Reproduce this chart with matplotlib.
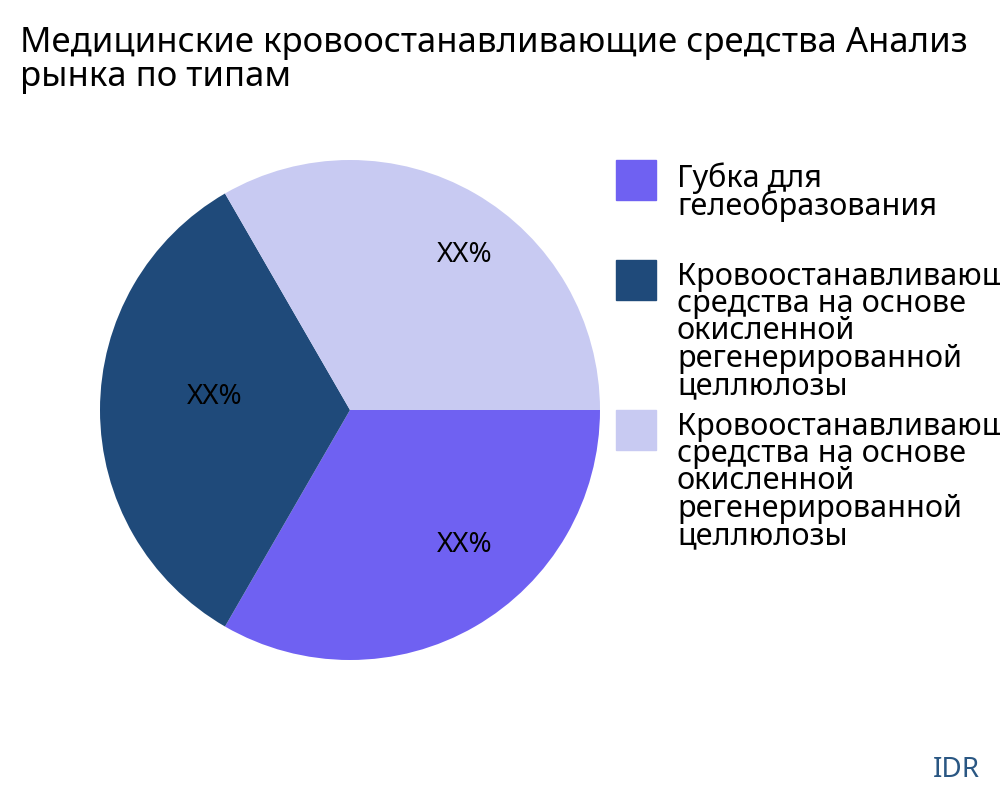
import matplotlib.pyplot as plt
import matplotlib.patches as mpatches

plt.rcParams['font.family'] = ['Noto Sans', 'DejaVu Sans']

title = "Медицинские кровоостанавливающие средства Анализ\nрынка по типам"
labels = ["Губка для\nгелеобразования",
          "Кровоостанавливающие\nсредства на основе\nокисленной\nрегенерированной\nцеллюлозы",
          "Кровоостанавливающие\nсредства на основе\nокисленной\nрегенерированной\nцеллюлозы"]
values = [1, 1, 1]
colors = ["#6F61F2", "#1F4A7A", "#C8CAF2"]

fig = plt.figure(figsize=(10, 8), dpi=100)
ax = fig.add_axes([0.1, 0.175, 0.5, 0.625])
wedges, _, pcts = ax.pie(values, colors=colors, startangle=0, counterclock=False,
                         autopct=lambda p: "XX%", pctdistance=0.7,
                         textprops={'fontsize': 20, 'color': 'black'})
# inside labels sit a bit off the wedge bisector, like the original
for t, pos in zip(pcts, [(0.46, -0.54), (-0.54, 0.05), (0.46, 0.62)]):
    t.set_position(pos)
ax.set_xlim(-1, 1)
ax.set_ylim(-1, 1)
ax.set_aspect('equal')

fig.text(0.02, 0.968, title, fontsize=25, va='top', ha='left', linespacing=1.02)

# hand-made legend, text runs off the right edge like the original
tops = [160, 260, 410]
for top, lab, col in zip(tops, labels, colors):
    fig.patches.append(mpatches.Rectangle((0.616, 1 - (top + 40) / 800), 0.04, 40 / 800,
                                          transform=fig.transFigure, color=col))
    fig.text(0.677, 1 - (top + 2) / 800, lab, fontsize=22, va='top', ha='left',
             linespacing=0.88)

fig.text(0.98, 0.02, "IDR", fontsize=20, color="#2A5783", ha='right', va='bottom')

fig.savefig("out.png")
